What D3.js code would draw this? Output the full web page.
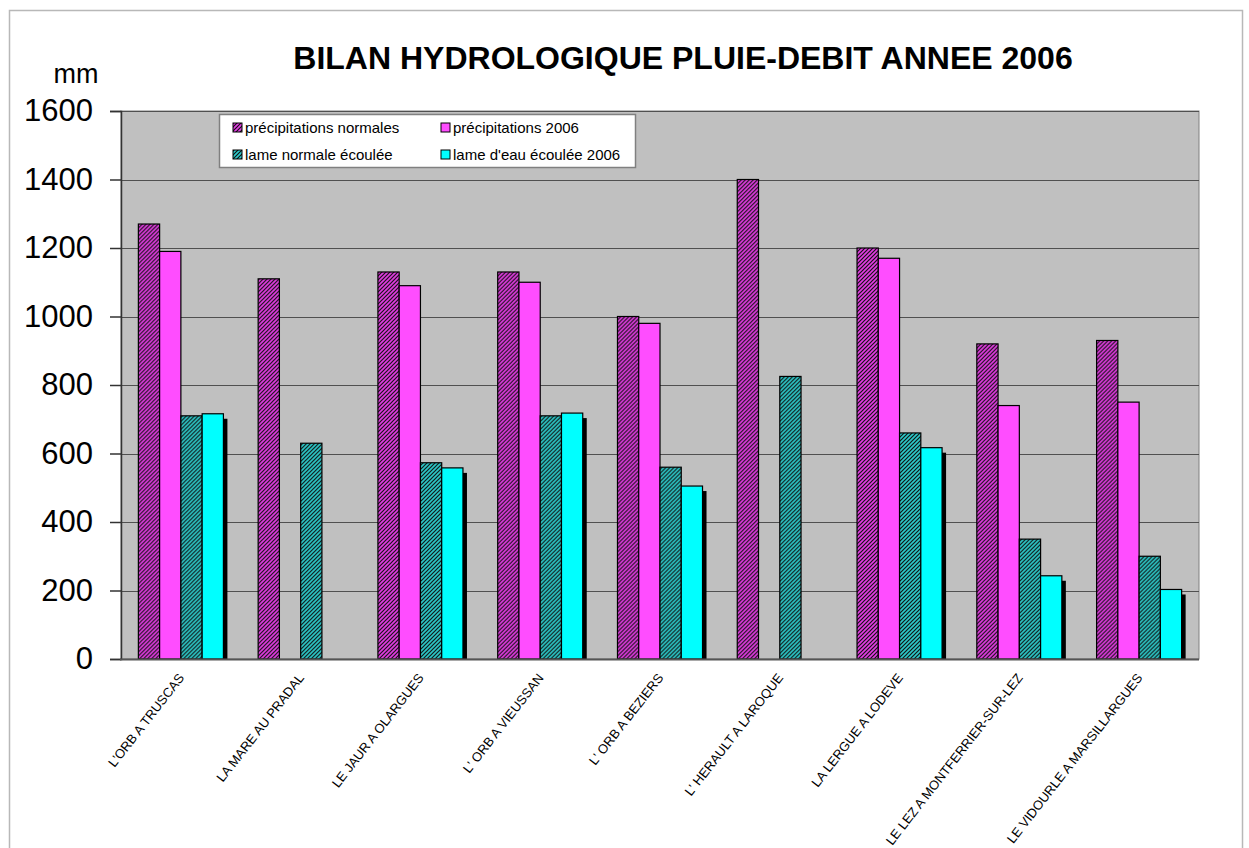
<!DOCTYPE html>
<html>
<head>
<meta charset="utf-8">
<script src="https://cdn.jsdelivr.net/npm/d3@7"></script>
<style>
  html, body { margin: 0; padding: 0; background: #fff; }
  svg { display: block; font-family: "Liberation Sans", Arial, sans-serif; }
</style>
</head>
<body>
<svg id="chart" width="1249" height="848"></svg>
<script>
const categories = [
  "L'ORB A TRUSCAS",
  "LA MARE AU PRADAL",
  "LE JAUR A OLARGUES",
  "L' ORB A VIEUSSAN",
  "L' ORB A BEZIERS",
  "L' HERAULT A LAROQUE",
  "LA LERGUE A LODEVE",
  "LE LEZ A MONTFERRIER-SUR-LEZ",
  "LE VIDOURLE A MARSILLARGUES"
];
const seriesNames = [
  "précipitations normales",
  "précipitations 2006",
  "lame normale écoulée",
  "lame d'eau écoulée 2006"
];
const precipNormales = [1270, 1110, 1130, 1130, 1000, 1400, 1200, 920, 930];
const precip2006     = [1190, null, 1090, 1100, 980, null, 1170, 740, 750];
const lameNormale    = [710, 630, 573, 710, 560, 825, 660, 350, 300];
const lame2006       = [716, null, 558, 718, 505, null, 617, 243, 203];
const yTicks = [0, 200, 400, 600, 800, 1000, 1200, 1400, 1600];
const title = "BILAN HYDROLOGIQUE PLUIE-DEBIT ANNEE 2006";
const unitLabel = "mm";

const seriesValues = [precipNormales, precip2006, lameNormale, lame2006];
const fills = ["url(#hatchMagenta)", "#FF4DFF", "url(#hatchTeal)", "#00FFFF"];

const svg = d3.select("#chart");
const defs = svg.append("defs");
function hatch(id, base) {
  const p = defs.append("pattern").attr("id", id)
    .attr("patternUnits", "userSpaceOnUse").attr("width", 4).attr("height", 4);
  p.append("rect").attr("width", 4).attr("height", 4).attr("fill", base);
  p.append("path").attr("d", "M-1,1 L1,-1 M0,4 L4,0 M3,5 L5,3")
    .attr("stroke", "#111").attr("stroke-width", 1.2);
}
hatch("hatchMagenta", "#E63CE6");
hatch("hatchTeal", "#2CCCCC");

// outer frame
svg.append("rect").attr("x", 9.5).attr("y", 10.5).attr("width", 1233).attr("height", 860)
  .attr("fill", "none").attr("stroke", "#b8b8b8").attr("stroke-width", 1.5);

const plot = { left: 121, right: 1199, top: 111, bottom: 659 };

const x = d3.scaleBand().domain(categories).range([plot.left, plot.right])
  .paddingInner(0.29).paddingOuter(0.145);
const xs = d3.scaleBand().domain(d3.range(4)).range([0, x.bandwidth()]);
const y = d3.scaleLinear().domain([0, 1600]).range([plot.bottom, plot.top]);

// plot background
svg.append("rect").attr("x", plot.left).attr("y", plot.top)
  .attr("width", plot.right - plot.left).attr("height", plot.bottom - plot.top)
  .attr("fill", "#C0C0C0").attr("stroke", "#808080").attr("stroke-width", 1);

// gridlines
svg.append("g").selectAll("line").data(yTicks.filter(d => d > 0)).join("line")
  .attr("x1", plot.left).attr("x2", plot.right)
  .attr("y1", d => Math.round(y(d)) + 0.5).attr("y2", d => Math.round(y(d)) + 0.5)
  .attr("stroke", "#505050").attr("stroke-width", 1.2);

// y axis
const yAxis = svg.append("g").attr("transform", `translate(${plot.left},0)`)
  .call(d3.axisLeft(y).tickValues(yTicks).tickFormat(d3.format("d")).tickSize(11).tickPadding(17));
yAxis.select(".domain").attr("stroke", "#333").attr("stroke-width", 1.5);
yAxis.selectAll(".tick line").attr("stroke", "#333").attr("stroke-width", 1.5);
yAxis.selectAll(".tick text").attr("font-size", 31).attr("fill", "#000")
  .attr("font-family", "Liberation Sans, Arial, sans-serif");

// bars
const groups = svg.append("g").selectAll("g").data(categories).join("g")
  .attr("transform", d => `translate(${x(d)},0)`);
seriesValues.forEach((vals, si) => {
  groups.each(function(cat, ci) {
    const v = vals[ci];
    if (v == null) return;
    const g = d3.select(this);
    const bx = xs(si), bw = xs.bandwidth();
    if (si === 3) {
      g.append("rect").attr("x", bx + 4).attr("y", y(v) + 5)
        .attr("width", bw).attr("height", y(0) - y(v) - 5).attr("fill", "#000");
    }
    g.append("rect").attr("x", bx).attr("y", y(v))
      .attr("width", bw).attr("height", y(0) - y(v))
      .attr("fill", fills[si]).attr("stroke", "#000").attr("stroke-width", 1.2);
  });
});

// x axis line
svg.append("line").attr("x1", plot.left - 1).attr("x2", plot.right)
  .attr("y1", plot.bottom + 0.5).attr("y2", plot.bottom + 0.5)
  .attr("stroke", "#555").attr("stroke-width", 2);

// x labels
svg.append("g").selectAll("text").data(categories).join("text")
  .attr("transform", d => `translate(${x(d) + x.bandwidth() / 2 + 4},${plot.bottom + 19}) rotate(-52)`)
  .attr("text-anchor", "end").attr("font-size", 13).attr("fill", "#000")
  .text(d => d);

// title
svg.append("text").attr("x", 683).attr("y", 69).attr("text-anchor", "middle")
  .attr("font-size", 32).attr("font-weight", "bold").text(title);

// unit
svg.append("text").attr("x", 76).attr("y", 83).attr("text-anchor", "middle")
  .attr("font-size", 27).text(unitLabel);

// legend
const lg = svg.append("g");
lg.append("rect").attr("x", 219.5).attr("y", 114.5).attr("width", 416).attr("height", 53)
  .attr("fill", "#fff").attr("stroke", "#808080").attr("stroke-width", 1.5);
const legPos = [[233, 123], [441, 123], [233, 150], [441, 150]];
seriesNames.forEach((n, i) => {
  const [lx, ly] = legPos[i];
  lg.append("rect").attr("x", lx).attr("y", ly).attr("width", 9).attr("height", 9)
    .attr("fill", fills[i]).attr("stroke", "#000").attr("stroke-width", 1);
  lg.append("text").attr("x", lx + 12).attr("y", ly + 10).attr("font-size", 15).text(n);
});
</script>
</body>
</html>
